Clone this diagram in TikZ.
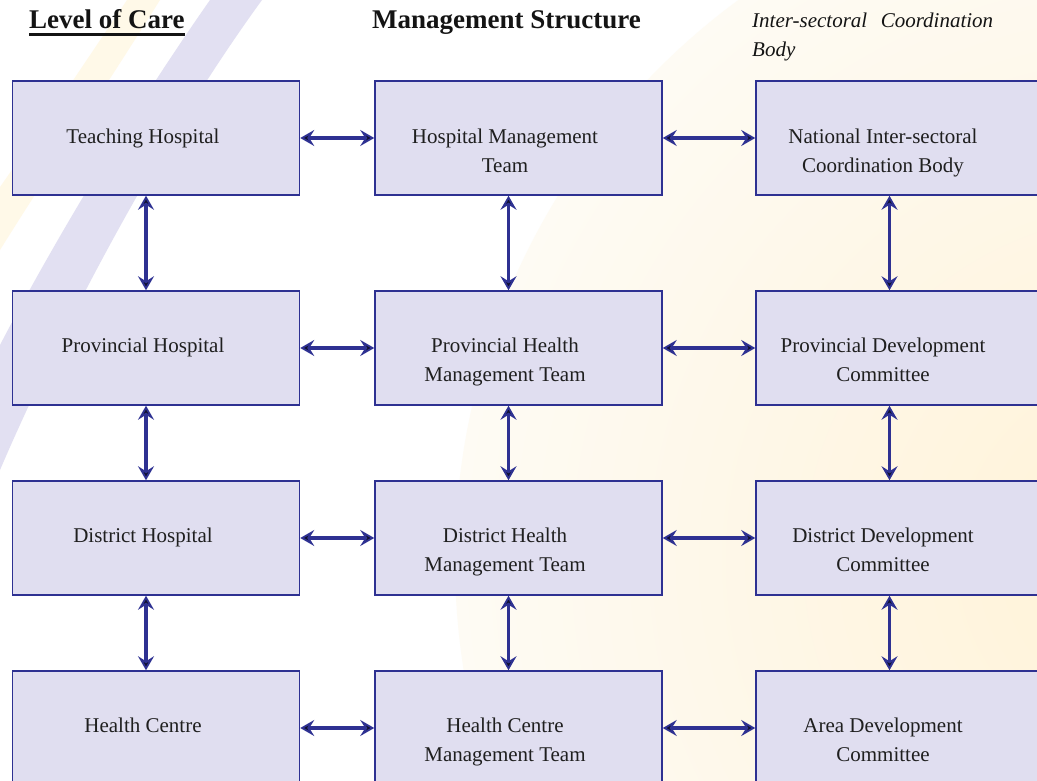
\documentclass[tikz,border=0pt]{standalone}
\usepackage{fontspec}
\setmainfont{Liberation Serif}
\usetikzlibrary{arrows.meta,positioning}

\definecolor{boxfill}{RGB}{224,222,240}
\definecolor{boxline}{RGB}{46,49,146}
\definecolor{tipfill}{RGB}{16,16,48}
\definecolor{bandlav}{RGB}{226,224,242}
\definecolor{bandcream}{RGB}{255,249,232}
\definecolor{glowin}{RGB}{255,242,214}
\definecolor{glowout}{RGB}{254,251,244}

\begin{document}
\begin{tikzpicture}[
        x=1pt, y=-1pt,
        box/.style = {draw=boxline, fill=boxfill, line width=1.5pt, minimum width=287pt, minimum height=114pt, inner sep=0pt},
        boxtext/.style = {anchor=north, align=center, inner sep=0pt, text=black!88, font=\fontsize{21}{29}\selectfont},
        heading/.style = {anchor=base west, inner sep=0pt, text=black!92, font=\fontsize{27}{30}\selectfont\bfseries},
        tip/.tip = {Stealth[length=14pt, width=16pt, inset=5pt, fill=tipfill, line width=1.8pt]},
        link/.style = {draw=boxline, line width=3.6pt, tip-tip},
        vlink/.style = {link, transform canvas={xshift=-10pt}}
        ]
        \useasboundingbox (0,0) rectangle (1037,781);
        \clip (0,0) rectangle (1037,781);
        \fill[white] (0,0) rectangle (1037,781);

        % background
        \shade[inner color=glowin, outer color=glowout] (1150,560) circle (695);
        \fill[bandcream] (127,0) .. controls (80,70) and (40,130) .. (0,187) -- (0,250) .. controls (50,170) and (110,80) .. (160,0) -- cycle;
        \fill[bandlav] (210,0) .. controls (140,100) and (60,230) .. (0,345) -- (0,470) .. controls (60,330) and (160,140) .. (262,0) -- cycle;

        % headings
        \node[heading] (care) at (29,29) {Level of Care};
        \draw[line width=2.2pt, black!92] ([yshift=-5.5pt]care.base west) -- ([yshift=-5.5pt]care.base east);
        \node[heading] (mgmt) at (372,29) {Management Structure};
        \node[anchor=north west, text width=241pt, inner sep=0pt, text=black!92, font=\fontsize{21}{29}\selectfont\itshape] (inter) at (752,13) {Inter-sectoral\hfill Coordination\\Body};

        % boxes
        \node[box] (teach) at (156,138) {};
        \node[box] (hmt) at (518.5,138) {};
        \node[box] (nicb) at (899.5,138) {};
        \node[box] (prov) at (156,348) {};
        \node[box] (phmt) at (518.5,348) {};
        \node[box] (pdc) at (899.5,348) {};
        \node[box] (dist) at (156,538) {};
        \node[box] (dhmt) at (518.5,538) {};
        \node[box] (ddc) at (899.5,538) {};
        \node[box] (hc) at (156,728) {};
        \node[box] (hcmt) at (518.5,728) {};
        \node[box] (adc) at (899.5,728) {};

        \node[boxtext] (teach-t) at (143,129) {Teaching Hospital};
        \node[boxtext] (hmt-t) at (505,129) {Hospital Management\\Team};
        \node[boxtext] (nicb-t) at (883,129) {National Inter-sectoral\\Coordination Body};
        \node[boxtext] (prov-t) at (143,338) {Provincial Hospital};
        \node[boxtext] (phmt-t) at (505,338) {Provincial Health\\Management Team};
        \node[boxtext] (pdc-t) at (883,338) {Provincial Development\\Committee};
        \node[boxtext] (dist-t) at (143,528) {District Hospital};
        \node[boxtext] (dhmt-t) at (505,528) {District Health\\Management Team};
        \node[boxtext] (ddc-t) at (883,528) {District Development\\Committee};
        \node[boxtext] (hc-t) at (143,718) {Health Centre};
        \node[boxtext] (hcmt-t) at (505,718) {Health Centre\\Management Team};
        \node[boxtext] (adc-t) at (883,718) {Area Development\\Committee};

        % links across
        \draw[link] (teach.east) -- (hmt.west);
        \draw[link] (hmt.east) -- (nicb.west);
        \draw[link] (prov.east) -- (phmt.west);
        \draw[link] (phmt.east) -- (pdc.west);
        \draw[link] (dist.east) -- (dhmt.west);
        \draw[link] (dhmt.east) -- (ddc.west);
        \draw[link] (hc.east) -- (hcmt.west);
        \draw[link] (hcmt.east) -- (adc.west);

        % links down
        \draw[vlink] (teach.south) -- (prov.north);
        \draw[vlink] (prov.south) -- (dist.north);
        \draw[vlink] (dist.south) -- (hc.north);
        \draw[vlink] (hmt.south) -- (phmt.north);
        \draw[vlink] (phmt.south) -- (dhmt.north);
        \draw[vlink] (dhmt.south) -- (hcmt.north);
        \draw[vlink] (nicb.south) -- (pdc.north);
        \draw[vlink] (pdc.south) -- (ddc.north);
        \draw[vlink] (ddc.south) -- (adc.north);

    \end{tikzpicture}
\end{document}
